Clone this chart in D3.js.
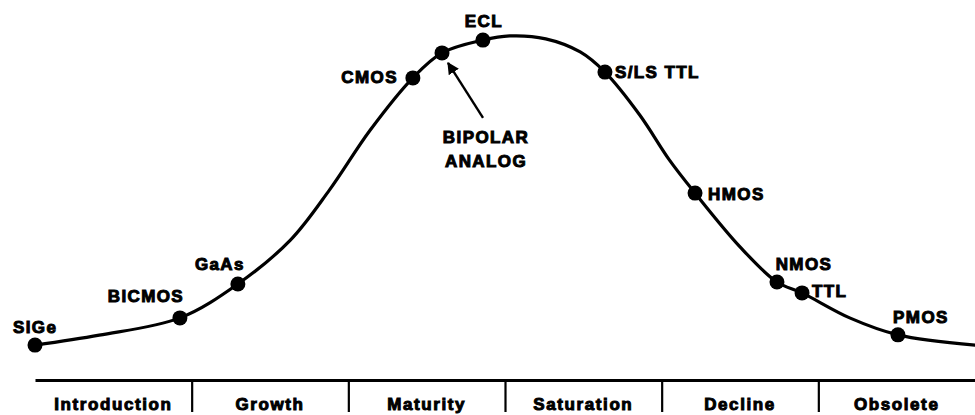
<!DOCTYPE html>
<html>
<head>
<meta charset="utf-8">
<script src="https://cdn.jsdelivr.net/npm/d3@7"></script>
<style>
  html, body { margin: 0; padding: 0; background: #fff; }
  svg { display: block; }
</style>
</head>
<body>
<svg id="chart" width="975" height="415"></svg>
<script>
// ---- Data ----
const stages = ["Introduction", "Growth", "Maturity", "Saturation", "Decline", "Obsolete"];
const stageBoundaries = [1, 2, 3, 4, 5];

// Life-cycle curve (position along stages, relative usage 0-100)
const curveX = [0, 0.41, 0.925, 1.295, 1.63, 1.88, 2.14, 2.412, 2.598, 2.859, 3.03, 3.26, 3.48, 3.638, 3.86, 4.05, 4.213, 4.50, 4.736, 4.896, 5.20, 5.508, 6.0];
const curveY = [3.1, 6.2, 11.6, 22.2, 35.9, 51.6, 70.3, 86.6, 94.4, 98.4, 99.7, 98.8, 94.7, 88.4, 75, 60.9, 50.6, 33.8, 22.8, 19.4, 11.6, 6.3, 3.1];

// Technologies on the curve
const techNames = ["SIGe", "BICMOS", "GaAs", "CMOS", "BIPOLAR ANALOG", "ECL", "S/LS TTL", "HMOS", "NMOS", "TTL", "PMOS"];
const techX = [0.0, 0.925, 1.295, 2.412, 2.598, 2.859, 3.638, 4.213, 4.736, 4.896, 5.508];
const techY = [3.1, 11.6, 22.2, 86.6, 94.4, 98.4, 88.4, 50.6, 22.8, 19.4, 6.3];

// ---- Layout ----
const svg = d3.select("#chart");
const x = d3.scaleLinear().domain([0, 6]).range([35, 975]);
const y = d3.scaleLinear().domain([0, 100]).range([355, 35]);
const axisY = 380;

const labelFont = "'Liberation Sans', Arial, Helvetica, sans-serif";

// Curve
const curveData = curveX.map((v, i) => [v, curveY[i]]);
svg.append("path")
  .datum(curveData)
  .attr("fill", "none")
  .attr("stroke", "#000")
  .attr("stroke-width", 3.2)
  .attr("stroke-linecap", "round")
  .attr("d", d3.line().x(d => x(d[0])).y(d => y(d[1])).curve(d3.curveCatmullRom.alpha(0.5)));

// Arrow marker
svg.append("defs").append("marker")
  .attr("id", "arrowhead")
  .attr("viewBox", "0 0 10 10")
  .attr("refX", 9).attr("refY", 5)
  .attr("markerWidth", 5).attr("markerHeight", 5)
  .attr("markerUnits", "strokeWidth")
  .attr("orient", "auto")
  .append("path").attr("d", "M0,0 L10,5 L0,10 z").attr("fill", "#000");

// Label placement (style, pixel offsets from the dot)
const labelPlace = {
  "SIGe":     { dx: -22, dy: -12, anchor: "start" },
  "BICMOS":   { dx: -34, dy: -16, anchor: "middle" },
  "GaAs":     { dx: -18, dy: -14, anchor: "middle" },
  "CMOS":     { dx: -15, dy: 5,   anchor: "end" },
  "ECL":      { dx: 1,   dy: -13, anchor: "middle" },
  "S/LS TTL": { dx: 10,  dy: 6,   anchor: "start" },
  "HMOS":     { dx: 13,  dy: 7,   anchor: "start" },
  "NMOS":     { dx: 27,  dy: -12, anchor: "middle" },
  "TTL":      { dx: 10,  dy: 4,   anchor: "start" },
  "PMOS":     { dx: 23,  dy: -12, anchor: "middle" }
};

const techs = techNames.map((n, i) => ({ name: n, x: techX[i], y: techY[i] }));

// Dots
svg.append("g").selectAll("circle")
  .data(techs)
  .join("circle")
  .attr("cx", d => x(d.x))
  .attr("cy", d => y(d.y))
  .attr("r", 7.5)
  .attr("fill", "#000");

// Labels
const textStyle = sel => sel
  .attr("font-family", labelFont)
  .attr("font-weight", 900)
  .attr("font-size", 17)
  .attr("letter-spacing", 1.4)
  .attr("fill", "#000")
  .attr("stroke", "#000")
  .attr("stroke-width", 1);

svg.append("g").selectAll("text")
  .data(techs.filter(d => labelPlace[d.name]))
  .join("text")
  .attr("x", d => x(d.x) + labelPlace[d.name].dx)
  .attr("y", d => y(d.y) + labelPlace[d.name].dy)
  .attr("text-anchor", d => labelPlace[d.name].anchor)
  .text(d => d.name)
  .call(textStyle);

// BIPOLAR ANALOG callout with arrow
const bip = techs.find(d => d.name === "BIPOLAR ANALOG");
const bx = x(bip.x), by = y(bip.y);
svg.append("line")
  .attr("x1", bx + 41).attr("y1", by + 65)
  .attr("x2", bx + 6).attr("y2", by + 10)
  .attr("stroke", "#000").attr("stroke-width", 2.4)
  .attr("marker-end", "url(#arrowhead)");
const bipText = svg.append("text")
  .attr("text-anchor", "middle")
  .call(textStyle);
bip.name.split(" ").forEach((w, i) => {
  bipText.append("tspan")
    .attr("x", bx + 44)
    .attr("y", by + 90 + i * 24)
    .text(w);
});

// Stage axis
const axis = d3.axisBottom(x)
  .tickValues(stageBoundaries)
  .tickSize(32)
  .tickSizeOuter(0)
  .tickFormat("");
const ag = svg.append("g")
  .attr("transform", `translate(0,${axisY})`)
  .call(axis);
ag.select(".domain").attr("stroke", "#000").attr("stroke-width", 3);
ag.selectAll(".tick line").attr("stroke", "#000").attr("stroke-width", 2.2);

svg.append("g").selectAll("text")
  .data(stages)
  .join("text")
  .attr("x", (d, i) => x(i + 0.5))
  .attr("y", axisY + 30)
  .attr("text-anchor", "middle")
  .attr("font-family", labelFont)
  .attr("font-weight", 900)
  .attr("font-size", 17)
  .attr("letter-spacing", 1.6)
  .attr("fill", "#000")
  .attr("stroke", "#000")
  .attr("stroke-width", 1)
  .text(d => d);
</script>
</body>
</html>
